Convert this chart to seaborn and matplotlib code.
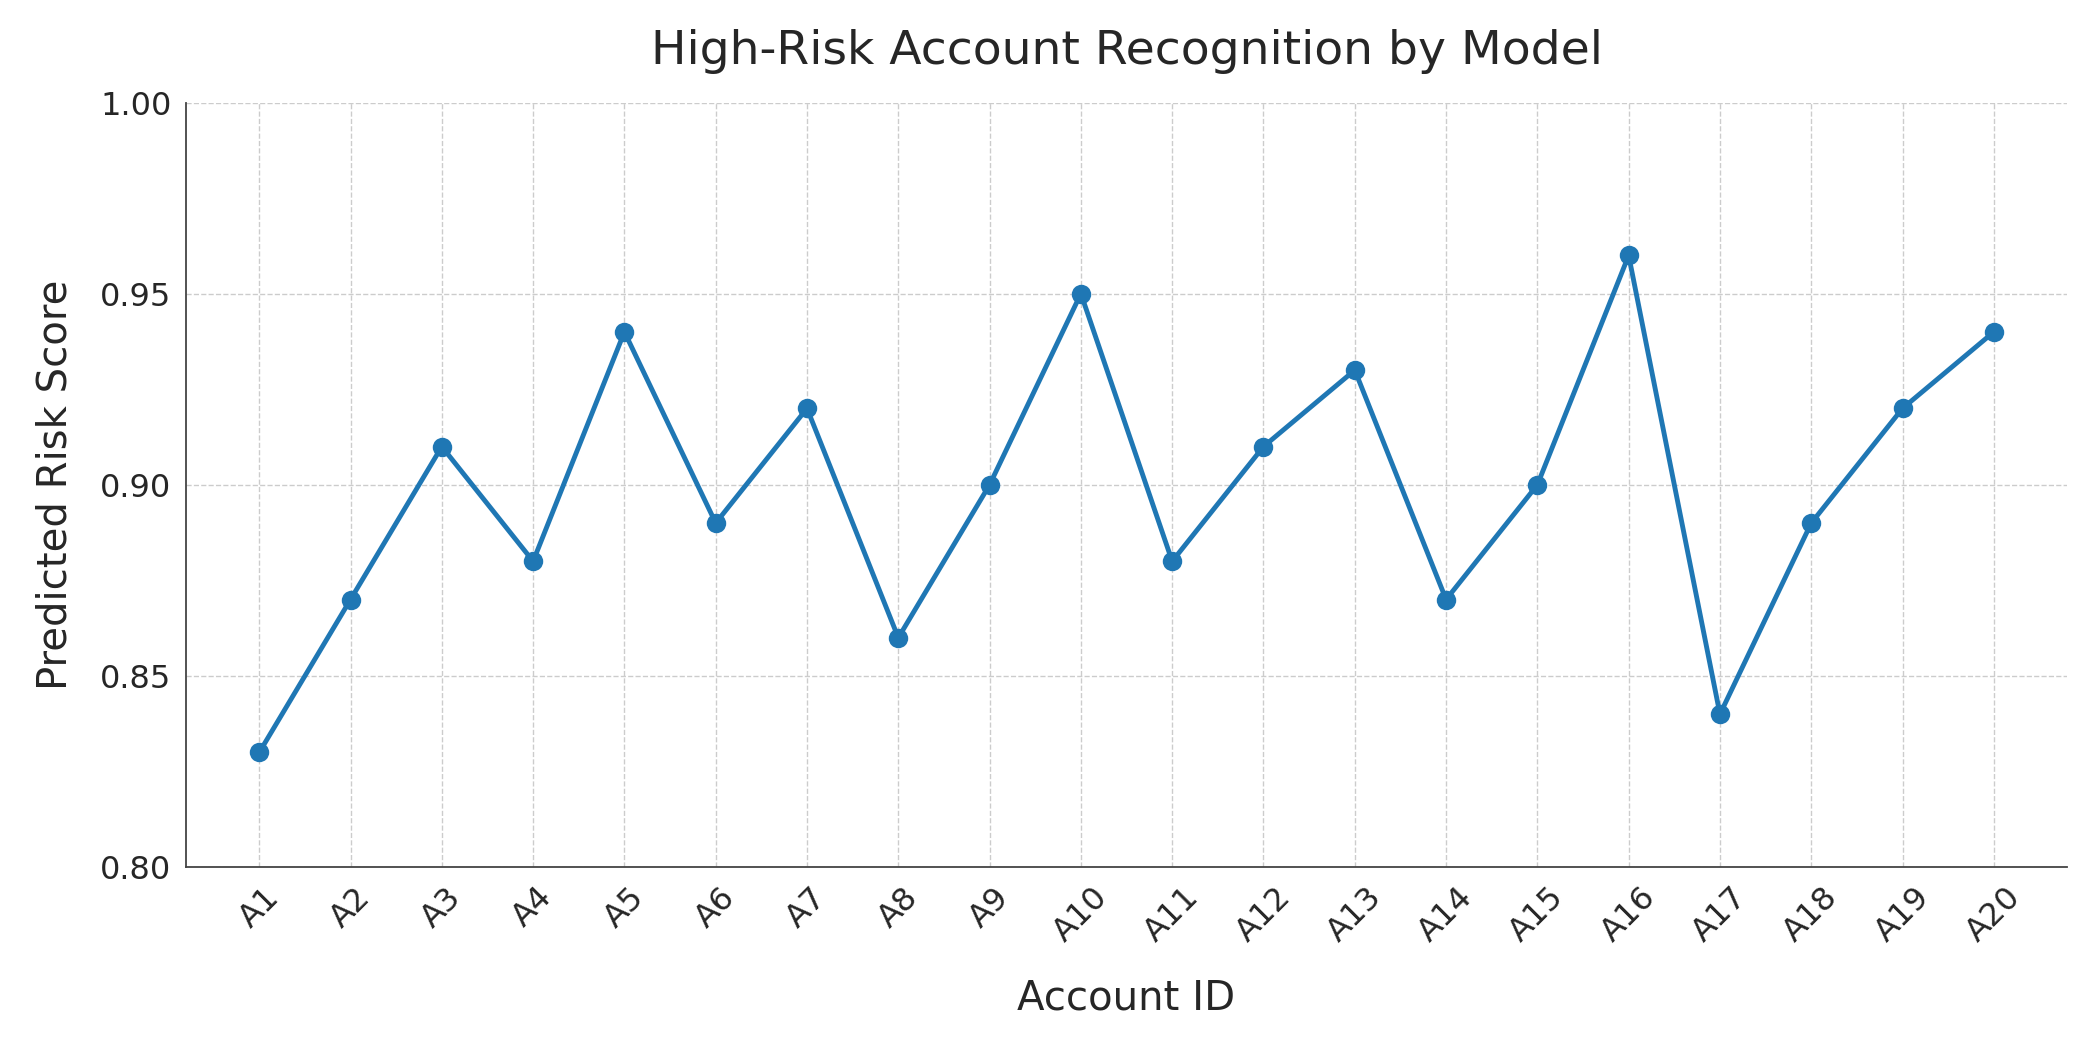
import matplotlib
matplotlib.use("Agg")
import matplotlib.pyplot as plt
import seaborn as sns
import pandas as pd

accounts = [f"A{i}" for i in range(1, 21)]
scores = [0.83, 0.87, 0.91, 0.88, 0.94, 0.89, 0.92, 0.86, 0.90, 0.95,
          0.88, 0.91, 0.93, 0.87, 0.90, 0.96, 0.84, 0.89, 0.92, 0.94]
yticks = [0.80, 0.85, 0.90, 0.95, 1.00]

sns.set_style("white")
df = pd.DataFrame({"Account ID": accounts, "Score": scores})
fig, ax = plt.subplots(figsize=(20.92, 10.46), dpi=100)
fig.subplots_adjust(left=0.089, right=0.988, top=0.902, bottom=0.171)
sns.lineplot(data=df, x="Account ID", y="Score", marker="o", markersize=14,
             linewidth=3.5, color="#1f77b4", markeredgewidth=0, ax=ax, sort=False)
ax.set_ylim(0.80, 1.00)
ax.set_yticks(yticks)
ax.set_yticklabels([f"{v:.2f}" for v in yticks], fontsize=23)
ax.set_xlim(-0.8, 19.8)
ax.tick_params(axis="x", labelsize=23, rotation=45)
ax.tick_params(axis="both", length=7, color="#444444")
ax.grid(True, linestyle="--", color="#cccccc", linewidth=1)
ax.set_xlabel("Account ID", fontsize=29, labelpad=22)
ax.set_ylabel("Predicted Risk Score", fontsize=29, labelpad=18)
ax.set_title("High-Risk Account Recognition by Model", fontsize=34, pad=28)
for s in ["top", "right"]:
    ax.spines[s].set_visible(False)
for s in ["left", "bottom"]:
    ax.spines[s].set_color("#444444")
    ax.spines[s].set_linewidth(1.3)
fig.savefig("out.png", dpi=100)
